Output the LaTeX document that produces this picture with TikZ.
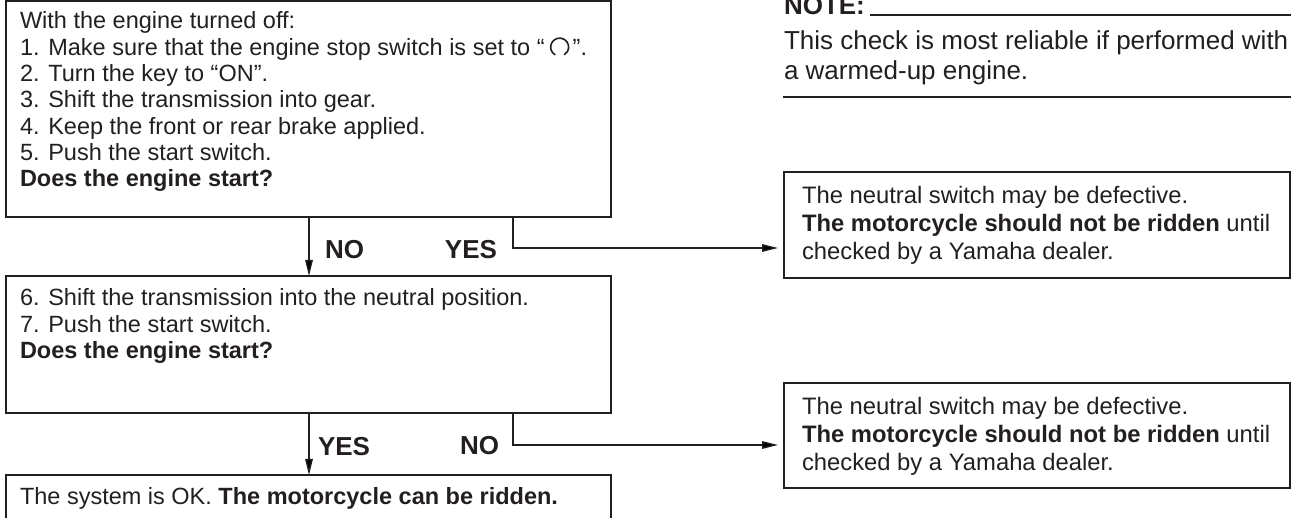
\documentclass[tikz,border=0pt]{standalone}
\usepackage{fontspec}
\setmainfont{Liberation Sans}
\usetikzlibrary{arrows.meta}
\definecolor{ink}{HTML}{231F20}
\newcommand\runsym{\begin{pgfpicture}\pgfsetbaseline{0pt}\pgfsetlinewidth{1.6pt}\pgfpathmoveto{\pgfpoint{4.5pt}{0.4pt}}\pgfpatharc{240}{-60}{9pt}\pgfusepath{stroke}\end{pgfpicture}}
\begin{document}
\begin{tikzpicture}[x=1pt,y=-1pt,
  every node/.style={inner sep=0pt, outer sep=0pt, text=ink},
  bigbox/.style={draw=ink, line width=2.3pt, anchor=north west, minimum width=605pt},
  sidebox/.style={draw=ink, line width=2pt, anchor=north west, minimum width=506pt},
  conn/.style={draw=ink, line width=1.3pt},
  arr/.style={conn, -{Triangle[length=16pt,width=7.5pt]}},
  body/.style={font=\fontsize{23.5}{26.3}\selectfont, align=left, anchor=base west},
  side/.style={font=\fontsize{23.8}{28}\selectfont, align=left, anchor=base west},
  notetxt/.style={font=\fontsize{26}{30}\selectfont, align=left, anchor=base west},
  lab/.style={font=\fontsize{26}{28}\selectfont\bfseries},
]
\useasboundingbox (0,0) rectangle (1291,518);

% left column boxes
\node[bigbox, minimum height=216pt] (b1) at (6,1.3) {};
\node[bigbox, minimum height=137pt] (b2) at (6,276) {};
\node[bigbox, minimum height=70pt] (b3) at (6,475) {};

% (base anchor of a multi-line node = baseline of its last line)
\node[body] (t1) at (20,186.8) {With the engine turned off:\\
1. Make sure that the engine stop switch is set to “\,\runsym\hspace{2pt}”.\\
2. Turn the key to “ON”.\\
3. Shift the transmission into gear.\\
4. Keep the front or rear brake applied.\\
5. Push the start switch.\\
\textbf{Does the engine start?}};

\node[body] (t2) at (20,358.6) {6. Shift the transmission into the neutral position.\\
7. Push the start switch.\\
\textbf{Does the engine start?}};

\node[body] (t3) at (20,504) {The system is OK. \textbf{The motorcycle can be ridden.}};

% right boxes
\node[sidebox, minimum height=106pt] (r1) at (784,172) {};
\node[sidebox, minimum height=105pt] (r2) at (784,383) {};

\node[side] (s1) at (802,260) {The neutral switch may be defective.\\
\textbf{The motorcycle should not be ridden} until\\
checked by a Yamaha dealer.};
\node[side] (s2) at (802,471) {The neutral switch may be defective.\\
\textbf{The motorcycle should not be ridden} until\\
checked by a Yamaha dealer.};

% connectors
\draw[arr] ([xshift=303pt]b1.south west) -- ([xshift=303pt]b2.north west);
\draw[arr, shorten >=6pt] ([xshift=507pt]b1.south west) |- ([yshift=-23pt]r1.west);
\draw[arr] ([xshift=303pt]b2.south west) -- ([xshift=303pt]b3.north west);
\draw[arr, shorten >=6pt] ([xshift=507pt]b2.south west) |- ([yshift=-9.5pt]r2.west);

% branch labels
\node[lab, anchor=west] (no1) at (325,250) {NO};
\node[lab, anchor=east] (yes1) at (497,250) {YES};
\node[lab, anchor=west] (yes2) at (318,447) {YES};
\node[lab, anchor=east] (no2) at (499,446) {NO};

% note
\node[notetxt, font=\fontsize{26}{30}\selectfont\bfseries] (note) at (784,15) {NOTE:};
\draw[conn] ([xshift=5pt]note.base east) -- ++(440,0);
\node[notetxt] (n1) at (784,80) {This check is most reliable if performed with\\
a warmed-up engine.};
\draw[conn] (783,97) -- (1295,97);
\end{tikzpicture}
\end{document}
